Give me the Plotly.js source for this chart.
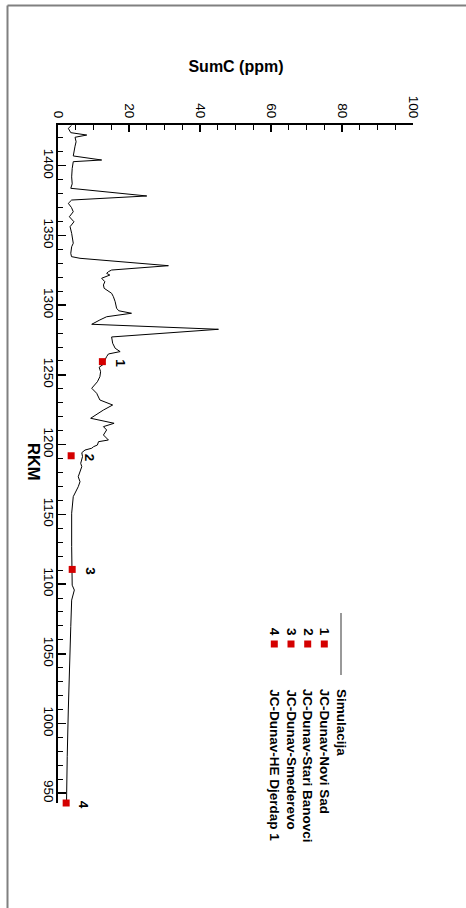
<!DOCTYPE html>
<html>
<head>
<meta charset="utf-8">
<script src="https://cdn.plot.ly/plotly-3.0.1.min.js"></script>
<style>html,body{margin:0;padding:0;background:#fff;}#chart{width:466px;height:908px;}</style>
</head>
<body>
<div id="chart"></div>
<script>
// Simulated profile: river kilometre (RKM) and SumC (ppm)
var simRKM = [1428.9,1426.8,1423.7,1422.0,1420.4,1417.2,1414.0,1407.0,1404.1,1402.9,1398,1392,1387,1383.8,1378.3,1375.4,1373.0,1370,1367,1363.4,1359.8,1356.3,1351.5,1344.4,1341.9,1337.2,1334.8,1333.6,1328.3,1325.2,1324,1322.8,1321.6,1319.3,1316.8,1314.5,1312.1,1309.7,1308.5,1306.1,1302.5,1297.8,1296,1294.2,1291.7,1289.4,1286.3,1282.7,1277.2,1272.7,1269.1,1266.7,1265,1263.1,1259.5,1258.3,1255.5,1252.3,1248.7,1245.1,1240.4,1236.8,1232,1228.4,1224.8,1218.9,1215.3,1212.9,1210.5,1206.9,1203.3,1202.1,1199.7,1198.5,1197.4,1196.1,1194.2,1191.4,1186.6,1184.2,1180,1177,1173.4,1169.8,1162.7,1150.8,1126.8,1110.1,1099.2,1095.7,1088.5,1069.5,1045.6,1009.7,976.3,950,943.5];
var simSumC = [3.8,2.9,3.6,8.1,4.8,5.1,4.8,4.3,12.3,4.3,4.0,3.85,4.0,3.6,25.0,3.85,2.9,3.8,4.3,3.2,4.5,3.4,3.85,4.3,3.85,3.6,3.8,6.2,31.1,15.1,14.2,13.7,14.6,12.3,13.2,12.8,13.0,14.2,15.1,15.6,16.1,16.5,17.1,20.7,13.7,11.8,9.5,45.2,15.1,15.4,16.1,17.5,14.2,13.7,13.0,13.2,11.6,12.0,11.8,11.1,9.5,10.9,11.8,15.4,12.8,9.2,15.8,12.8,13.7,12.8,14.2,11.4,11.1,10.0,9.5,7.6,6.7,6.9,6.4,6.7,6.0,5.7,6.2,5.7,4.3,3.85,3.85,4.0,4.0,4.6,3.85,3.6,3.4,2.9,2.6,2.4,2.4];

// Measured stations
var stationNames = ['JC-Dunav-Novi Sad','JC-Dunav-Stari Banovci','JC-Dunav-Smederevo','JC-Dunav-HE Djerdap 1'];
var stationNums = ['1','2','3','4'];
var stationRKM = [1259.5,1192,1110.5,943];
var stationSumC = [12.5,3.7,4.0,2.3];

var simName = 'Simulacija';
var xTickVals = [0,20,40,60,80,100];
var yTickVals = [950,1000,1050,1100,1150,1200,1250,1300,1350,1400];

var FONT = 'Liberation Sans, Arial, Helvetica, sans-serif';
var RED = '#d40000';

// pixel -> paper helpers (plot area 58..413 x, 125..803 y)
function px(x){ return (x-58)/355; }
function py(y){ return (803-y)/678; }

var traces = [
  {x: simSumC, y: simRKM, mode:'lines', type:'scatter', line:{color:'#000', width:1}, showlegend:false, hoverinfo:'skip'},
  {x: stationSumC, y: stationRKM, mode:'markers', type:'scatter', marker:{symbol:'square', size:7, color:RED}, showlegend:false, cliponaxis:false}
];

var annotations = [];
for (var i=0;i<stationNums.length;i++){
  annotations.push({x: stationSumC[i], y: stationRKM[i], xref:'x', yref:'y', xanchor:'center', yanchor:'middle', text:'<b>'+stationNums[i]+'</b>', showarrow:false, textangle:90, xshift:18, yshift:-2, font:{family:FONT, size:13.5, color:'#000'}});
}
annotations.push({x: px(34), y: py(462), xref:'paper', yref:'paper', xanchor:'center', yanchor:'middle', text:'<b>RKM</b>', showarrow:false, textangle:90, font:{family:FONT, size:16.5, color:'#000'}});

// custom rotated legend
var legendX = [324.3,307.7,291,274.3];
var legendTextTop = py(687);
annotations.push({x: px(341.5), y: legendTextTop, xref:'paper', yref:'paper', xanchor:'center', yanchor:'top', text:'<b>'+simName+'</b>', showarrow:false, textangle:90, font:{family:FONT, size:13.5, color:'#000'}});
var shapes = [
  {type:'line', xref:'paper', yref:'paper', x0:px(341), x1:px(341), y0:py(613), y1:py(675), line:{color:'#777', width:1.5}},
  // outer frame
  {type:'line', xref:'paper', yref:'paper', x0:px(7.5), x1:px(7.5), y0:py(920), y1:py(5.5), line:{color:'#808080', width:2}},
  {type:'line', xref:'paper', yref:'paper', x0:px(7.5), x1:px(480), y0:py(5.5), y1:py(5.5), line:{color:'#808080', width:2}}
];
for (var j=0;j<stationNames.length;j++){
  var cx = legendX[j];
  shapes.push({type:'rect', xref:'paper', yref:'paper', x0:px(cx-3.5), x1:px(cx+3.5), y0:py(644+3.5), y1:py(644-3.5), fillcolor:RED, line:{width:0}});
  annotations.push({x: px(cx+1), y: py(632), xref:'paper', yref:'paper', xanchor:'center', yanchor:'middle', text:'<b>'+stationNums[j]+'</b>', showarrow:false, textangle:90, font:{family:FONT, size:13.5, color:'#000'}});
  annotations.push({x: px(cx+0.5), y: legendTextTop, xref:'paper', yref:'paper', xanchor:'center', yanchor:'top', text:'<b>'+stationNames[j]+'</b>', showarrow:false, textangle:90, font:{family:FONT, size:13.5, color:'#000'}});
}

var layout = {
  width:466, height:908,
  margin:{l:58, r:53, t:125, b:105, pad:0},
  paper_bgcolor:'#fff', plot_bgcolor:'#fff',
  showlegend:false,
  title:{text:'<b>SumC (ppm)</b>', x:236/466, xanchor:'center', y:1-66/908, yanchor:'middle', font:{family:FONT, size:16, color:'#000'}},
  xaxis:{range:[0,100], side:'top', tickvals:xTickVals, tickangle:90, ticks:'inside', ticklen:7, tickwidth:1.5, tickcolor:'#000',
         minor:{dtick:5, ticks:'inside', ticklen:5, tickwidth:1, tickcolor:'#000'},
         showline:true, linewidth:2, linecolor:'#000', showgrid:false, zeroline:false,
         tickfont:{family:FONT, size:13.5, color:'#000'}},
  yaxis:{range:[943,1429.2], tickvals:yTickVals, tickangle:90, ticks:'inside', ticklen:8, tickwidth:1.5, tickcolor:'#000',
         ticklabelstandoff:-4,
         minor:{dtick:10, ticks:'inside', ticklen:5, tickwidth:1, tickcolor:'#000'},
         showline:true, linewidth:2, linecolor:'#000', showgrid:false, zeroline:false,
         tickfont:{family:FONT, size:13.5, color:'#000'}},
  annotations:annotations,
  shapes:shapes
};

Plotly.newPlot('chart', traces, layout, {staticPlot:true, displayModeBar:false});
</script>
</body>
</html>
